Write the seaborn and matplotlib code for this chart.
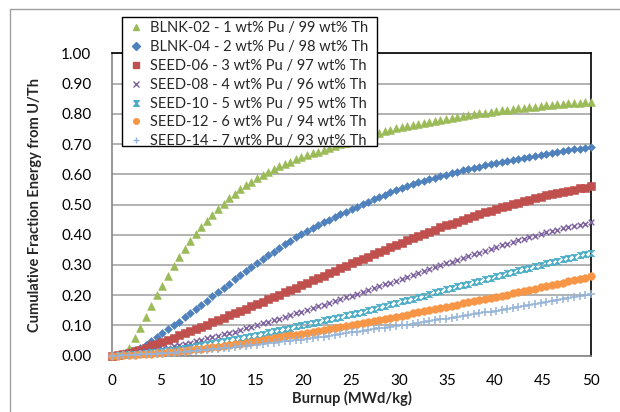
import matplotlib
matplotlib.use("Agg")
import matplotlib.pyplot as plt
import seaborn as sns
import pandas as pd
from matplotlib.lines import Line2D
from matplotlib.patches import Rectangle

# ---------------- data ----------------
burnup = [0.00, 0.58, 1.16, 1.74, 2.33, 2.91, 3.49, 4.07, 4.65, 5.23, 5.81, 6.40, 6.98, 7.56, 8.14,
          8.72, 9.30, 9.88, 10.47, 11.05, 11.63, 12.21, 12.79, 13.37, 13.95, 14.53, 15.12, 15.70,
          16.28, 16.86, 17.44, 18.02, 18.60, 19.19, 19.77, 20.35, 20.93, 21.51, 22.09, 22.67, 23.26,
          23.84, 24.42, 25.00, 25.58, 26.16, 26.74, 27.33, 27.91, 28.49, 29.07, 29.65, 30.23, 30.81,
          31.40, 31.98, 32.56, 33.14, 33.72, 34.30, 34.88, 35.47, 36.05, 36.63, 37.21, 37.79, 38.37,
          38.95, 39.53, 40.12, 40.70, 41.28, 41.86, 42.44, 43.02, 43.60, 44.19, 44.77, 45.35, 45.93,
          46.51, 47.09, 47.67, 48.26, 48.84, 49.42, 50.00]

blnk02 = [0.000, 0.003, 0.010, 0.026, 0.058, 0.093, 0.128, 0.166, 0.200, 0.232, 0.265, 0.296, 0.326,
          0.354, 0.380, 0.404, 0.425, 0.446, 0.466, 0.485, 0.503, 0.520, 0.535, 0.550, 0.563, 0.575,
          0.587, 0.598, 0.608, 0.617, 0.626, 0.634, 0.642, 0.650, 0.657, 0.663, 0.669, 0.675, 0.681,
          0.687, 0.693, 0.699, 0.704, 0.710, 0.715, 0.720, 0.726, 0.733, 0.738, 0.743, 0.748, 0.752,
          0.756, 0.760, 0.764, 0.767, 0.771, 0.774, 0.777, 0.781, 0.784, 0.787, 0.790, 0.793, 0.796,
          0.799, 0.802, 0.804, 0.807, 0.810, 0.812, 0.814, 0.816, 0.818, 0.820, 0.822, 0.824, 0.826,
          0.828, 0.829, 0.831, 0.832, 0.834, 0.835, 0.837, 0.838, 0.840]

blnk04 = [0.000, 0.002, 0.006, 0.011, 0.018, 0.026, 0.036, 0.048, 0.061, 0.074, 0.087, 0.100, 0.113,
          0.127, 0.140, 0.154, 0.168, 0.182, 0.196, 0.210, 0.224, 0.238, 0.252, 0.266, 0.279, 0.293,
          0.306, 0.319, 0.332, 0.344, 0.356, 0.368, 0.379, 0.391, 0.402, 0.412, 0.422, 0.432, 0.441,
          0.450, 0.459, 0.467, 0.476, 0.484, 0.492, 0.501, 0.509, 0.517, 0.525, 0.533, 0.540, 0.547,
          0.554, 0.561, 0.567, 0.573, 0.579, 0.584, 0.589, 0.594, 0.599, 0.604, 0.608, 0.613, 0.617,
          0.621, 0.625, 0.629, 0.633, 0.637, 0.641, 0.644, 0.648, 0.651, 0.655, 0.658, 0.661, 0.664,
          0.667, 0.670, 0.673, 0.676, 0.679, 0.682, 0.685, 0.688, 0.691]

seed06 = [0.000, 0.002, 0.005, 0.009, 0.014, 0.020, 0.027, 0.034, 0.040, 0.046, 0.053, 0.060, 0.067,
          0.074, 0.081, 0.089, 0.096, 0.103, 0.111, 0.118, 0.126, 0.133, 0.141, 0.148, 0.156, 0.164,
          0.171, 0.179, 0.187, 0.194, 0.202, 0.210, 0.217, 0.225, 0.233, 0.241, 0.249, 0.257, 0.265,
          0.273, 0.281, 0.289, 0.297, 0.305, 0.313, 0.320, 0.328, 0.336, 0.344, 0.351, 0.359, 0.367,
          0.374, 0.381, 0.389, 0.396, 0.403, 0.410, 0.417, 0.424, 0.431, 0.437, 0.443, 0.450, 0.456,
          0.462, 0.468, 0.474, 0.480, 0.486, 0.491, 0.496, 0.501, 0.506, 0.511, 0.516, 0.521, 0.525,
          0.530, 0.534, 0.538, 0.542, 0.546, 0.549, 0.553, 0.556, 0.560]

seed08 = [0.000, 0.001, 0.003, 0.005, 0.008, 0.011, 0.014, 0.017, 0.020, 0.023, 0.027, 0.031, 0.035,
          0.039, 0.043, 0.047, 0.052, 0.057, 0.061, 0.066, 0.071, 0.076, 0.080, 0.085, 0.090, 0.096,
          0.101, 0.107, 0.112, 0.118, 0.123, 0.129, 0.134, 0.140, 0.146, 0.151, 0.157, 0.163, 0.169,
          0.175, 0.181, 0.187, 0.193, 0.198, 0.204, 0.211, 0.217, 0.223, 0.230, 0.236, 0.242, 0.248,
          0.254, 0.261, 0.267, 0.273, 0.280, 0.286, 0.292, 0.299, 0.305, 0.311, 0.317, 0.323, 0.329,
          0.335, 0.341, 0.347, 0.353, 0.360, 0.365, 0.370, 0.376, 0.381, 0.387, 0.392, 0.397, 0.403,
          0.408, 0.412, 0.417, 0.421, 0.425, 0.429, 0.433, 0.437, 0.441]

seed10 = [0.000, 0.001, 0.002, 0.004, 0.005, 0.007, 0.009, 0.011, 0.013, 0.015, 0.018, 0.020, 0.023,
          0.026, 0.029, 0.032, 0.035, 0.038, 0.041, 0.045, 0.048, 0.051, 0.055, 0.058, 0.062, 0.065,
          0.069, 0.073, 0.077, 0.081, 0.085, 0.089, 0.093, 0.097, 0.101, 0.105, 0.109, 0.113, 0.117,
          0.121, 0.125, 0.129, 0.133, 0.137, 0.142, 0.146, 0.151, 0.156, 0.161, 0.165, 0.170, 0.175,
          0.180, 0.185, 0.189, 0.194, 0.199, 0.204, 0.209, 0.214, 0.219, 0.224, 0.229, 0.234, 0.238,
          0.243, 0.248, 0.253, 0.258, 0.263, 0.268, 0.272, 0.277, 0.282, 0.287, 0.291, 0.296, 0.301,
          0.305, 0.310, 0.314, 0.319, 0.323, 0.328, 0.332, 0.337, 0.341]

seed12 = [0.000, 0.000, 0.001, 0.002, 0.003, 0.004, 0.006, 0.007, 0.008, 0.009, 0.011, 0.013, 0.015,
          0.017, 0.019, 0.021, 0.023, 0.025, 0.028, 0.030, 0.033, 0.035, 0.038, 0.040, 0.043, 0.046,
          0.049, 0.052, 0.055, 0.058, 0.061, 0.064, 0.067, 0.070, 0.073, 0.076, 0.079, 0.082, 0.085,
          0.088, 0.091, 0.094, 0.097, 0.100, 0.104, 0.107, 0.111, 0.114, 0.118, 0.121, 0.125, 0.129,
          0.132, 0.136, 0.140, 0.143, 0.147, 0.151, 0.155, 0.158, 0.162, 0.166, 0.169, 0.173, 0.176,
          0.180, 0.183, 0.187, 0.190, 0.194, 0.198, 0.202, 0.206, 0.210, 0.214, 0.218, 0.222, 0.226,
          0.230, 0.234, 0.238, 0.242, 0.246, 0.250, 0.254, 0.258, 0.263]

seed14 = [0.000, 0.000, 0.001, 0.002, 0.003, 0.004, 0.005, 0.006, 0.007, 0.008, 0.009, 0.010, 0.012,
          0.013, 0.015, 0.016, 0.018, 0.020, 0.021, 0.023, 0.025, 0.027, 0.029, 0.031, 0.033, 0.035,
          0.037, 0.039, 0.041, 0.043, 0.045, 0.047, 0.049, 0.051, 0.053, 0.056, 0.058, 0.061, 0.063,
          0.066, 0.068, 0.071, 0.074, 0.077, 0.079, 0.082, 0.085, 0.087, 0.090, 0.093, 0.095, 0.098,
          0.101, 0.103, 0.106, 0.109, 0.111, 0.114, 0.117, 0.120, 0.122, 0.125, 0.128, 0.131, 0.134,
          0.137, 0.140, 0.143, 0.146, 0.149, 0.152, 0.155, 0.159, 0.162, 0.165, 0.168, 0.171, 0.175,
          0.178, 0.181, 0.185, 0.188, 0.191, 0.195, 0.198, 0.202, 0.205]

series_labels = ["BLNK-02 - 1 wt% Pu / 99 wt% Th",
                 "BLNK-04 - 2 wt% Pu / 98 wt% Th",
                 "SEED-06 - 3 wt% Pu / 97 wt% Th",
                 "SEED-08 - 4 wt% Pu / 96 wt% Th",
                 "SEED-10 - 5 wt% Pu / 95 wt% Th",
                 "SEED-12 - 6 wt% Pu / 94 wt% Th",
                 "SEED-14 - 7 wt% Pu / 93 wt% Th"]
series_values = [blnk02, blnk04, seed06, seed08, seed10, seed12, seed14]

x_ticks = [0, 5, 10, 15, 20, 25, 30, 35, 40, 45, 50]
y_ticks = [0.0, 0.1, 0.2, 0.3, 0.4, 0.5, 0.6, 0.7, 0.8, 0.9, 1.0]
x_label = "Burnup (MWd/kg)"
y_label = "Cumulative Fraction Energy from U/Th"

# ---------------- styling ----------------
sns.set_style("white")
plt.rcParams["font.family"] = ["Lato", "DejaVu Sans"]

colors = ["#9BBB59", "#4F81BD", "#C0504D", "#8064A2", "#4BACC6", "#F79646", "#95B3D7"]
hourglass = [(-1, 1), (1, 1), (-1, -1), (1, -1), (-1, 1)]
markers = ["^", "D", "s", "x", hourglass, "o", "+"]
sizes = [32, 16, 30, 16, 22, 30, 26]
filled = [True, True, True, False, True, True, False]

df = pd.DataFrame({
    "burnup": burnup * len(series_labels),
    "frac": [v for vals in series_values for v in vals],
    "series": [lab for lab, vals in zip(series_labels, series_values) for _ in vals],
})

fig = plt.figure(figsize=(6.2, 4.12), dpi=100)
ax = fig.add_axes([112.3 / 620, 1 - 355.7 / 412, (590.7 - 112.3) / 620, (355.7 - 53.3) / 412])

for lab, col, mk, sz, fl in zip(series_labels, colors, markers, sizes, filled):
    sub = df[df["series"] == lab]
    kw = dict(color=col, marker=mk, s=sz, ax=ax, zorder=3, clip_on=False)
    if fl:
        kw.update(edgecolor=col, linewidth=0.4)
    else:
        kw.update(linewidth=1.1)
    sns.scatterplot(data=sub, x="burnup", y="frac", legend=False, **kw)

ax.set_xlim(0, 50)
ax.set_ylim(0, 1.0)
ax.set_xticks(x_ticks)
ax.set_yticks(y_ticks)
ax.set_xticklabels([str(t) for t in x_ticks])
ax.set_yticklabels([f"{t:.2f}" for t in y_ticks])
ax.tick_params(axis="both", which="major", labelsize=11, colors="#868686", labelcolor="black",
               length=5, width=1.0, direction="out")
ax.tick_params(axis="x", pad=8)
ax.tick_params(axis="y", pad=10)
ax.yaxis.grid(True, color="#A6A6A6", linewidth=1.2)
ax.xaxis.grid(False)
ax.set_axisbelow(True)
for side in ["left", "bottom"]:
    ax.spines[side].set_color("#868686")
    ax.spines[side].set_linewidth(1.2)
for side in ["top", "right"]:
    ax.spines[side].set_color("black")
    ax.spines[side].set_linewidth(1.2)

ax.set_xlabel(x_label, fontsize=10.5, fontweight="bold", labelpad=2)
ax.set_ylabel(y_label, fontsize=10.5, fontweight="bold", labelpad=14)

# legend box (drawn as a figure-level rectangle) and entries
fig.add_artist(Rectangle((122 / 620, 1 - 146 / 412), (377 - 122) / 620, (146 - 17) / 412,
                         transform=fig.transFigure, facecolor="white", edgecolor="black",
                         linewidth=1.0, zorder=4))
handles = []
for lab, col, mk, fl in zip(series_labels, colors, markers, filled):
    if fl:
        h = Line2D([], [], linestyle="none", marker=mk, color=col, markeredgecolor=col,
                   markersize=4)
    else:
        h = Line2D([], [], linestyle="none", marker=mk, color=col, markersize=4,
                   markeredgewidth=1.0)
    handles.append(h)
leg = fig.legend(handles, series_labels, loc="upper left",
                 bbox_to_anchor=(122 / 620, 1 - 17 / 412), fontsize=10.5,
                 frameon=False, borderpad=0.3, labelspacing=0.33, handlelength=1.3,
                 handletextpad=0.35, borderaxespad=0)
leg.set_zorder(5)

# outer chart border (top and left visible)
fig.add_artist(Line2D([10 / 620, 10 / 620], [0, 1 - 9 / 412], transform=fig.transFigure,
                      color="#A0A0A0", linewidth=1.0))
fig.add_artist(Line2D([10 / 620, 1], [1 - 9 / 412, 1 - 9 / 412], transform=fig.transFigure,
                      color="#A0A0A0", linewidth=1.0))

fig.savefig("out.png", dpi=100)
